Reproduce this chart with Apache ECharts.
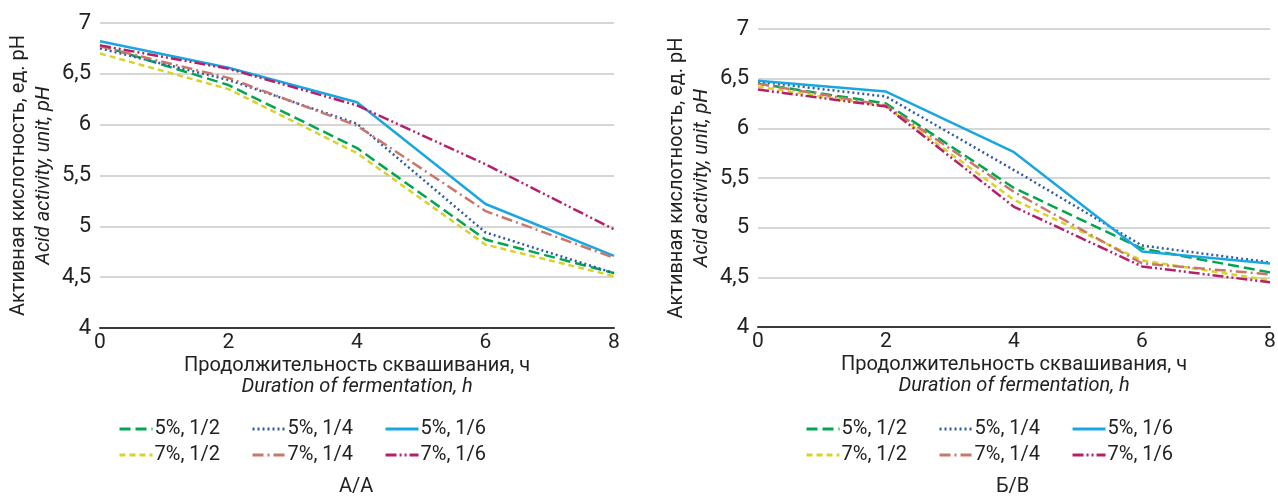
<!DOCTYPE html>
<html lang="ru">
<head>
    <meta charset="utf-8">
    <title>Acid activity</title>
    <script src="https://cdn.jsdelivr.net/npm/echarts@6.0.0/dist/echarts.min.js"></script>
    <style>
        html, body { margin: 0; padding: 0; background: #fff; }
        #chart { width: 1278px; height: 499px; }
    </style>
</head>
<body>
    <div id="chart"></div>
    <script>
        // hours of fermentation
        const hours = [0, 2, 4, 6, 8];
        const seriesNames = ['5%, 1/2', '5%, 1/4', '5%, 1/6', '7%, 1/2', '7%, 1/4', '7%, 1/6'];

        // panel A/A
        const a_5_2 = [6.78, 6.39, 5.77, 4.87, 4.54];
        const a_5_4 = [6.75, 6.44, 6.01, 4.94, 4.54];
        const a_5_6 = [6.82, 6.56, 6.22, 5.22, 4.71];
        const a_7_2 = [6.70, 6.35, 5.72, 4.82, 4.51];
        const a_7_4 = [6.77, 6.46, 5.99, 5.15, 4.69];
        const a_7_6 = [6.78, 6.55, 6.19, 5.61, 4.97];

        // panel Б/В
        const b_5_2 = [6.45, 6.25, 5.40, 4.79, 4.55];
        const b_5_4 = [6.47, 6.32, 5.58, 4.82, 4.65];
        const b_5_6 = [6.48, 6.37, 5.76, 4.76, 4.64];
        const b_7_2 = [6.42, 6.22, 5.28, 4.67, 4.47];
        const b_7_4 = [6.45, 6.23, 5.36, 4.64, 4.53];
        const b_7_6 = [6.39, 6.22, 5.21, 4.61, 4.45];

        const yTicks = { min: 4, max: 7, step: 0.5 };

        const font = '"Liberation Sans Narrow", "Roboto", sans-serif';

        // line look for each series
        const styles = [
            { color: '#00a651', type: [11, 5] },
            { color: '#2e5aa8', type: [2, 3] },
            { color: '#1aa7e0', type: 'solid' },
            { color: '#d9d22a', type: [6, 4] },
            { color: '#c9776a', type: [11, 4, 2, 4] },
            { color: '#b5206a', type: [11, 3, 2, 3, 2, 3] }
        ];

        const panels = [
            { values: [a_5_2, a_5_4, a_5_6, a_7_2, a_7_4, a_7_6], caption: 'А/А' },
            { values: [b_5_2, b_5_4, b_5_6, b_7_2, b_7_4, b_7_6], caption: 'Б/В' }
        ];

        const grids = [
            { left: 100, width: 514, top: 23, height: 305, outerBoundsMode: 'none' },
            { left: 758, width: 512, top: 29, height: 298, outerBoundsMode: 'none' }
        ];

        const comma = v => String(v).replace('.', ',');

        const option = {
            animation: false,
            textStyle: { fontFamily: font },
            grid: grids,
            xAxis: grids.map((g, i) => ({
                gridIndex: i,
                type: 'value',
                min: 0, max: 8, interval: 2,
                axisLine: { show: true, lineStyle: { color: '#3a3a3a', width: 2 } },
                axisTick: { show: false },
                splitLine: { show: false },
                axisLabel: { color: '#222', fontSize: 21, margin: 4, fontFamily: font },
                name: '{a|Продолжительность сквашивания, ч}\n{b|Duration of fermentation, h}',
                nameLocation: 'middle',
                nameMoveOverlap: false,
                nameGap: 27,
                nameTextStyle: {
                    rich: {
                        a: { fontSize: 20, color: '#222', fontFamily: font, lineHeight: 21 },
                        b: { fontSize: 20, color: '#222', fontFamily: font, fontStyle: 'italic', lineHeight: 21 }
                    }
                }
            })),
            yAxis: grids.map((g, i) => ({
                gridIndex: i,
                type: 'value',
                min: yTicks.min, max: yTicks.max, interval: yTicks.step,
                axisLine: { show: false },
                axisTick: { show: false },
                splitLine: { lineStyle: { color: '#c8c8c8', width: 1.5 } },
                axisLabel: { color: '#222', fontSize: 22, margin: 9, fontFamily: font, formatter: comma },
                name: '{a|Активная кислотность, ед. pH}\n{b|Acid activity, unit, pH}',
                nameLocation: 'middle',
                nameRotate: 90,
                nameMoveOverlap: false,
                nameGap: 44,
                nameTextStyle: {
                    rich: {
                        a: { fontSize: 20, color: '#222', fontFamily: font, lineHeight: 25 },
                        b: { fontSize: 20, color: '#222', fontFamily: font, fontStyle: 'italic', lineHeight: 25 }
                    }
                }
            })),
            legend: [],
            series: [],
            graphic: []
        };

        panels.forEach((p, pi) => {
            p.values.forEach((vals, si) => {
                option.series.push({
                    type: 'line',
                    name: seriesNames[si],
                    xAxisIndex: pi,
                    yAxisIndex: pi,
                    symbol: 'none',
                    color: styles[si].color,
                    lineStyle: { color: styles[si].color, type: styles[si].type, width: 2.5 },
                    data: hours.map((h, k) => [h, vals[k]])
                });
            });
            const g = grids[pi];
            const legendLeft = pi === 0 ? 113 : 800;
            [seriesNames.slice(0, 3), seriesNames.slice(3)].forEach((row, ri) => {
                option.legend.push({
                    data: row,
                    left: legendLeft,
                    top: 414 + ri * 26,
                    itemWidth: 33,
                    itemHeight: 10,
                    itemGap: 31,
                    itemStyle: { opacity: 0 },
                    lineStyle: { width: 3 },
                    textStyle: { fontSize: 20, color: '#222', fontFamily: font, padding: [0, 0, 0, -3] }
                });
            });
            option.graphic.push({
                type: 'text',
                left: g.left + g.width / 2 - 18,
                top: 477,
                style: { text: p.caption, font: '20px ' + font, fill: '#222' }
            });
        });

        const chart = echarts.init(document.getElementById('chart'));
        chart.setOption(option);
        window.addEventListener('resize', () => chart.resize());
    </script>
</body>
</html>
